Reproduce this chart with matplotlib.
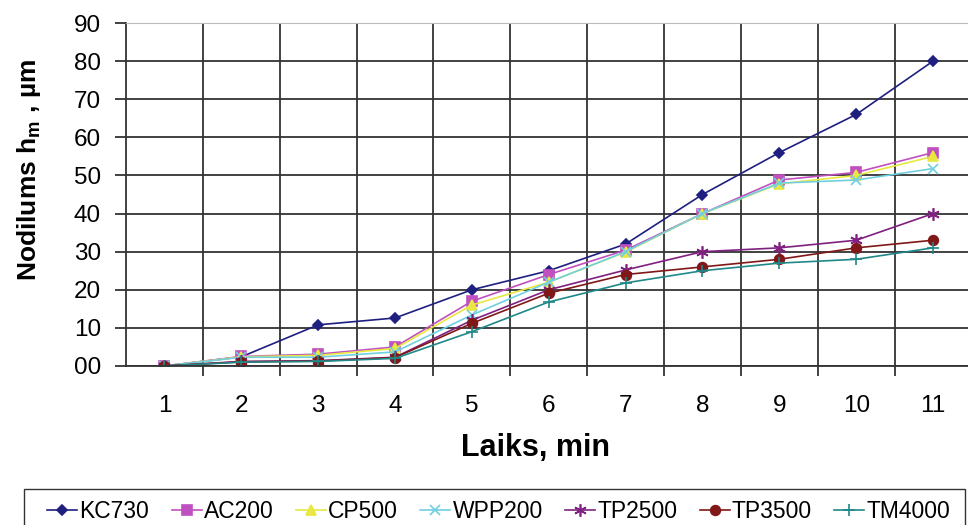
import numpy as np
import matplotlib
matplotlib.use("Agg")
from matplotlib import pyplot as plt
from matplotlib.ticker import FixedLocator
from matplotlib.patches import Rectangle

plt.rcParams["font.family"] = ["Liberation Sans", "DejaVu Sans"]
plt.rcParams["mathtext.fontset"] = "custom"
plt.rcParams["mathtext.bf"] = "Liberation Sans:bold"
plt.rcParams["mathtext.rm"] = "Liberation Sans"

# data
minutes = [1, 2, 3, 4, 5, 6, 7, 8, 9, 10, 11]
kc730 = [0, 2.4, 10.8, 12.6, 20, 25, 32, 45, 56, 66, 80]
ac200 = [0, 2.5, 3.1, 5, 17, 24, 30.4, 40, 48.8, 50.8, 56]
cp500 = [0, 2.4, 2.8, 4.6, 16, 22, 29.9, 40, 47.8, 50, 55]
wpp200 = [0, 2.3, 2.3, 3.7, 13.4, 22, 30, 40, 48, 48.8, 51.8]
tp2500 = [0, 1.2, 1.4, 2.3, 12, 20, 25.2, 30, 31, 33, 40]
tp3500 = [0, 1.1, 1.3, 2.2, 11.2, 19.1, 24, 26, 28, 31, 33]
tm4000 = [0, 1, 1.2, 2, 9, 16.8, 21.8, 25, 27, 28, 31]

series = [
    ("KC730", kc730, "#1f1f80", "D", 5),
    ("AC200", ac200, "#c050c0", "s", 7),
    ("CP500", cp500, "#e8e840", "^", 7),
    ("WPP200", wpp200, "#70d0e0", "x", 7),
    ("TP2500", tp2500, "#802080", (6, 2, 0), 9),
    ("TP3500", tp3500, "#801818", "o", 7),
    ("TM4000", tm4000, "#208888", "+", 9),
]

fig = plt.figure(figsize=(9.68, 5.25), dpi=100)
ax = fig.add_axes([126 / 968, 1 - 366 / 525, 845.5 / 968, 343 / 525])

for name, vals, col, mk, ms in series:
    ax.plot(minutes, vals, color=col, marker=mk, markersize=ms, linewidth=1.2,
            markeredgewidth=1.2, label=name)

ax.set_xlim(0.5, 11.5)
ax.set_ylim(0, 90)
ax.set_xticks(minutes)
ax.set_xticklabels([str(m) for m in minutes])
ax.xaxis.set_minor_locator(FixedLocator(np.arange(1.5, 11.5, 1)))
ax.set_yticks(range(0, 91, 10))
ax.set_yticklabels(["%02d" % v for v in range(0, 91, 10)])

ax.tick_params(axis="x", which="major", length=0, pad=21, labelsize=17.5)
ax.tick_params(axis="x", which="minor", length=7, width=1.3, color="#333333", direction="out")
ax.tick_params(axis="y", length=8, width=1.3, color="#333333", pad=10, labelsize=17.5)

ax.grid(True, axis="y", color="#333333", linewidth=1.3)
ax.grid(True, axis="x", which="minor", color="#333333", linewidth=1.3)
ax.set_axisbelow(True)

ax.spines["top"].set_color("#bbbbbb")
ax.spines["right"].set_visible(False)
ax.spines["left"].set_color("#333333")
ax.spines["left"].set_linewidth(1.3)
ax.spines["bottom"].set_color("#333333")
ax.spines["bottom"].set_linewidth(1.3)

ax.set_xlabel("Laiks, min", fontsize=22, fontweight="bold")
ax.xaxis.set_label_coords(0.484, -0.196)
ax.set_ylabel(r"Nodilums h$_\mathbf{m}$ , µm", fontsize=19, fontweight="bold")
ax.yaxis.set_label_coords(-0.098, 0.571)

# legend box drawn by hand so the inner padding can be wider than the top padding
fig.patches.append(Rectangle((24 / 968, -0.05), (965 - 24) / 968, 0.05 + 1 - 489 / 525,
                             transform=fig.transFigure, fill=False,
                             edgecolor="#333333", linewidth=1.0))
leg = fig.legend(loc="upper left", bbox_to_anchor=(36 / 968, 1 - 489 / 525), ncol=7,
                 fontsize=16.5, handlelength=1.3, handletextpad=0.1, columnspacing=0.98,
                 borderpad=0.5, borderaxespad=0, frameon=False)

fig.savefig("out.png", dpi=100)
